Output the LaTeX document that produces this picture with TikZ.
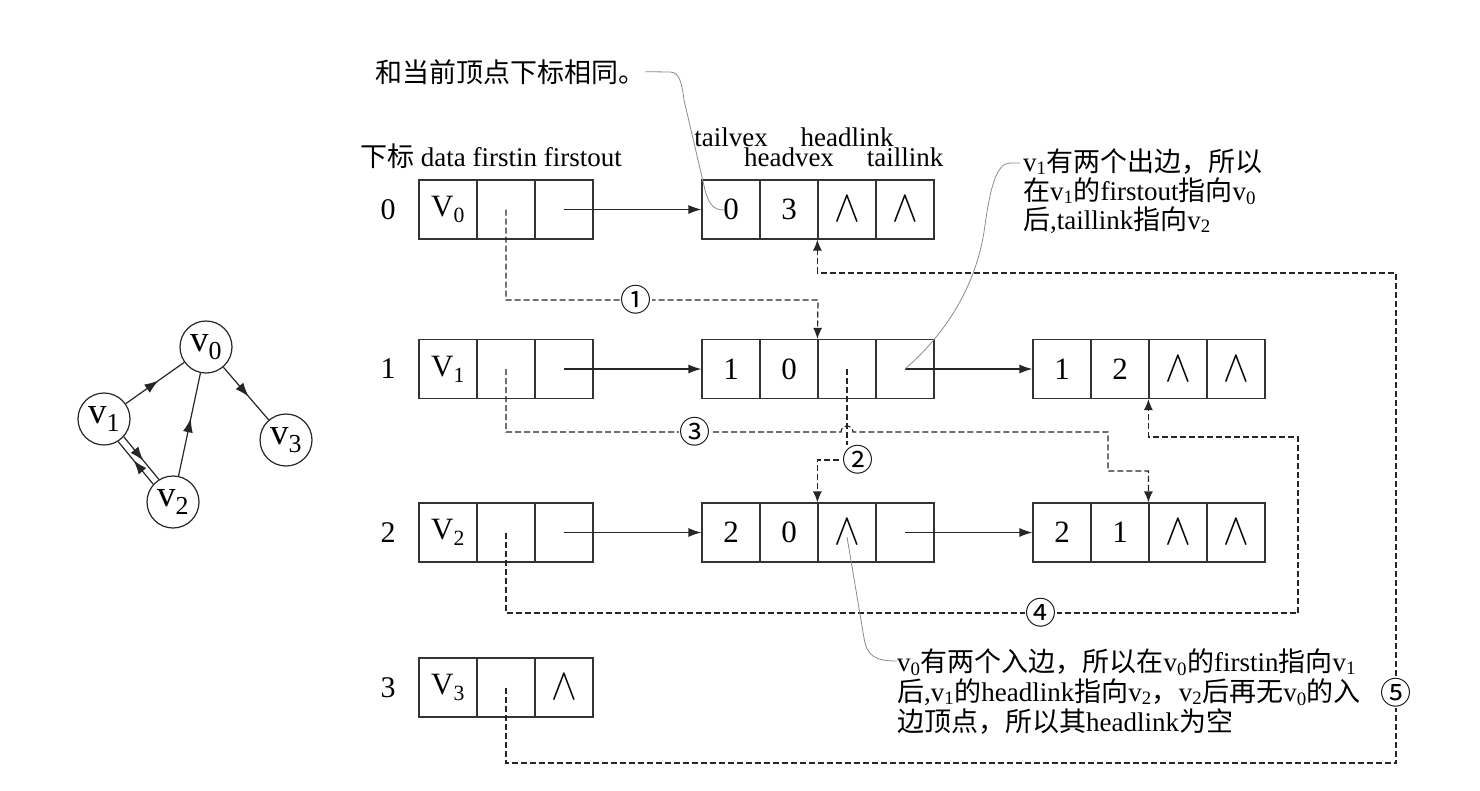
\documentclass[tikz,border=0pt]{standalone}
\usepackage{graphicx}
\usepackage{fontspec}
\setmainfont{Liberation Serif}
\newfontfamily\cjk{Noto Sans CJK SC}
\usetikzlibrary{arrows.meta,decorations.markings}

\newcommand\zh[1]{{\cjk #1}}
\newcommand\fsz[1]{\fontsize{#1}{#1}\selectfont}
% empty pointer mark
\newcommand\nulsym{\scalebox{1.55}[1.8]{\fsz{24.88}$\wedge$}}

\begin{document}
\begin{tikzpicture}[x=1pt,y=-1pt,
  cell/.style={draw=black!80,line width=1.2pt,minimum width=58pt,minimum height=59pt,
               inner sep=0pt,font=\fsz{31}},
  link/.style={line width=1.2pt,draw=black!85,-{Latex[length=13pt,width=9pt]}},
  ptr/.style={line width=1.2pt,draw=black!85,dash pattern=on 6pt off 3pt,
              -{Latex[length=11pt,width=9pt]}},
  leader/.style={draw=black!45,line width=0.8pt},
  num/.style={fill=white,inner sep=0.2pt,font=\cjk\fsz{31}},
  note/.style={anchor=base west,inner sep=0pt,font=\fsz{27}},
  head/.style={anchor=base,inner sep=0pt,font=\fsz{27}},
  idx/.style={inner sep=0pt,font=\fsz{30}},
  vx/.style={circle,draw=black!85,line width=1.2pt,fill=white,minimum size=52pt,
             inner sep=0pt,font=\fsz{37}},
  gedge/.style={line width=1.2pt,draw=black!85,postaction={decorate},
     decoration={markings,mark=at position 0.56 with {\arrow{Latex[length=14pt,width=10pt]}}}},
]
\fill[white] (0,0) rectangle (1480,790);
\useasboundingbox (0,0) rectangle (1480,790);

% ---------- the graph ----------
\node[vx] (g0) at (206,347) {v\textsubscript{0}};
\node[vx] (g1) at (104,419) {v\textsubscript{1}};
\node[vx] (g2) at (173,502) {v\textsubscript{2}};
\node[vx] (g3) at (286,440) {v\textsubscript{3}};
\draw[gedge] (g1) -- (g0);
\draw[gedge] (g2) -- (g0);
\draw[gedge] (g0) -- (g3);
\draw[gedge] (g1.-42) -- (g2.122);
\draw[gedge] (g2.138) -- (g1.-58);

% ---------- headers ----------
\node[note] (hdr) at (360,166) {\zh{下标} data firstin firstout};
\node[head] (htv) at (731,146) {tailvex};
\node[head] (hhl) at (847,146) {headlink};
\node[head] (hhv) at (789,166) {headvex};
\node[head] (htl) at (905,166) {taillink};

% ---------- vertex table ----------
\foreach \i/\y in {0/209.5,1/369,2/532.5}{
  \node[idx] (r\i) at (388,\y) {\i};
  \node[cell] (v\i d) at (448,\y) {V\textsubscript{\i}};
  \node[cell] (v\i i) at (506,\y) {};
  \node[cell] (v\i o) at (564,\y) {};
}
\node[idx] (r3) at (388,687.5) {3};
\node[cell] (v3d) at (448,687.5) {V\textsubscript{3}};
\node[cell] (v3i) at (506,687.5) {};
\node[cell] (v3o) at (564,687.5) {\nulsym};

% ---------- arc nodes ----------
% edge <0,3>
\node[cell] (e0a) at (731,209.5) {0};
\node[cell] (e0b) at (789,209.5) {3};
\node[cell] (e0c) at (847,209.5) {\nulsym};
\node[cell] (e0d) at (905,209.5) {\nulsym};
% edge <1,0>
\node[cell] (e1a) at (731,369) {1};
\node[cell] (e1b) at (789,369) {0};
\node[cell] (e1c) at (847,369) {};
\node[cell] (e1d) at (905,369) {};
% edge <1,2>
\node[cell] (f1a) at (1062,369) {1};
\node[cell] (f1b) at (1120,369) {2};
\node[cell] (f1c) at (1178,369) {\nulsym};
\node[cell] (f1d) at (1236,369) {\nulsym};
% edge <2,0>
\node[cell] (e2a) at (731,532.5) {2};
\node[cell] (e2b) at (789,532.5) {0};
\node[cell] (e2c) at (847,532.5) {\nulsym};
\node[cell] (e2d) at (905,532.5) {};
% edge <2,1>
\node[cell] (f2a) at (1062,532.5) {2};
\node[cell] (f2b) at (1120,532.5) {1};
\node[cell] (f2c) at (1178,532.5) {\nulsym};
\node[cell] (f2d) at (1236,532.5) {\nulsym};

% ---------- out-lists (solid) ----------
\draw[link] (v0o.center) -- (e0a.west);
\draw[link] (v1o.center) -- (e1a.west);
\draw[link] (v2o.center) -- (e2a.west);
\draw[link] (e1d.center) -- (f1a.west);
\draw[link] (e2d.center) -- (f2a.west);

% ---------- in-lists (dashed) ----------
\coordinate (p1) at (818,300);
\draw[ptr] (v0i.center) |- (p1) -- (e1c.north west);

\coordinate (p2) at (847,460);
\draw[ptr] (e1c.center) -- (p2) -| (e2c.north west);

\coordinate (p3) at (506,432);
\coordinate (hop) at (841,432);
\coordinate (p3a) at (1108,432);
\coordinate (p3b) at (1108,471);
\draw[ptr] (v1i.center) -- (p3) -- (hop) arc[start angle=180,end angle=0,radius=6pt]
   -- (p3a) -- (p3b) -| (f2c.north west);

\coordinate (p4a) at (1298,613);
\coordinate (p4b) at (1298,437);
\draw[ptr] (v2i.center) |- (p4a) -- (p4b) -| (f1c.south west);

\coordinate (p5a) at (1396,763);
\coordinate (p5b) at (1396,273);
\draw[ptr] (v3i.center) |- (p5a) -- (p5b) -| (e0c.south west);

\node[num] (c1) at (636,300) {①};
\node[num] (c2) at (858,460) {②};
\node[num] (c3) at (695,432) {③};
\node[num] (c4) at (1041,613) {④};
\node[num] (c5) at (1396,693) {⑤};

% ---------- notes ----------
\node[note] (n1) at (375,82) {\zh{和当前顶点下标相同。}};
\coordinate (k1) at (724,210);
\draw[leader] (n1.east) -- (670,72) .. controls (680,72) and (682,85) .. (684,100)
   -- (705,190) .. controls (709,205) and (714,210) .. (k1);

\node[note] (n2a) at (1023,171) {v\textsubscript{1}\zh{有两个出边，所以}};
\node[note] (n2b) at (1023,200) {\zh{在}v\textsubscript{1}\zh{的}firstout\zh{指向}v\textsubscript{0}};
\node[note] (n2c) at (1023,229) {\zh{后},taillink\zh{指向}v\textsubscript{2}};
\coordinate (k2) at (1020,163);
\draw[leader] (k2) -- (1010,163) .. controls (996,163) and (990,190) .. (985,225)
   .. controls (978,280) and (950,330) .. (e1d.center);

\node[note] (n3a) at (897,671) {v\textsubscript{0}\zh{有两个入边，所以在}v\textsubscript{0}\zh{的}firstin\zh{指向}v\textsubscript{1}};
\node[note] (n3b) at (897,701) {\zh{后},v\textsubscript{1}\zh{的}headlink\zh{指向}v\textsubscript{2}\zh{，}v\textsubscript{2}\zh{后再无}v\textsubscript{0}\zh{的入}};
\node[note] (n3c) at (897,731) {\zh{边顶点，所以其}headlink\zh{为空}};
\coordinate (k3) at (847,537);
\draw[leader] (k3) -- (864,638) .. controls (867,656) and (875,661) .. (n3a.west |- 0,661);
\end{tikzpicture}
\end{document}
